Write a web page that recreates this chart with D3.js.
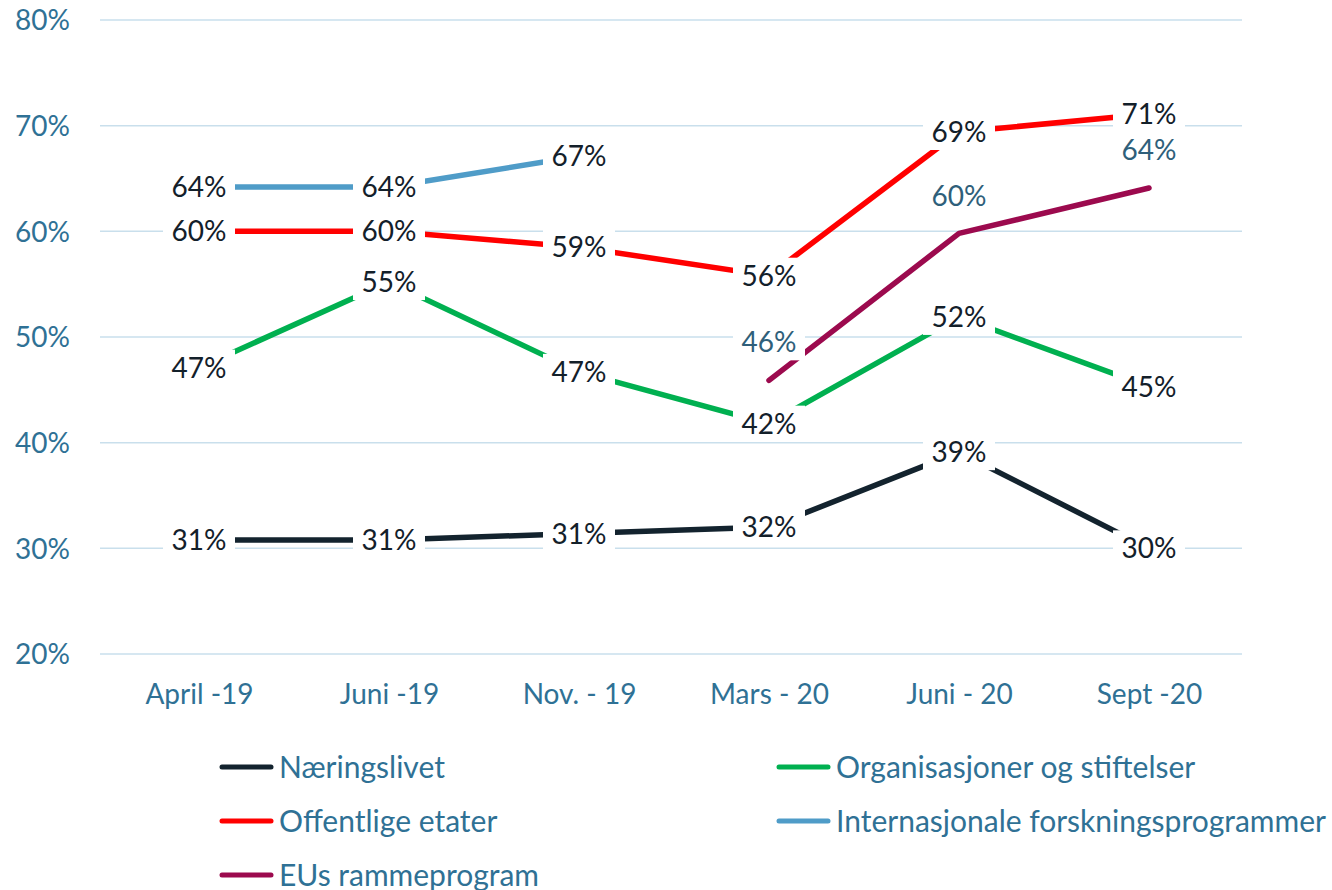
<!DOCTYPE html>
<html>
<head>
<meta charset="utf-8">
<script src="https://cdn.jsdelivr.net/npm/d3@7"></script>
<style>
  body { margin: 0; background: #fff; }
  text { font-family: Lato, "Open Sans", sans-serif; }
</style>
</head>
<body>
<div class="chart"></div>
<script>
const periods = ['April -19', 'Juni -19', 'Nov. - 19', 'Mars - 20', 'Juni - 20', 'Sept -20'];
const yTicks = [0.2, 0.3, 0.4, 0.5, 0.6, 0.7, 0.8];

const naeringslivet = [0.308, 0.308, 0.314, 0.320, 0.391, 0.300];
const organisasjoner = [0.471, 0.552, 0.467, 0.418, 0.519, 0.453];
const offentlige = [0.600, 0.600, 0.585, 0.558, 0.694, 0.711];
const internasjonale = [0.642, 0.642, 0.671, null, null, null];
const eusRamme = [null, null, null, 0.459, 0.598, 0.641];

const series = [
  {name: 'Næringslivet', values: naeringslivet, color: '#13232e', labelColor: '#13202a', dy: 0},
  {name: 'Organisasjoner og stiftelser', values: organisasjoner, color: '#00b050', labelColor: '#13202a', dy: 0},
  {name: 'Offentlige etater', values: offentlige, color: '#ff0000', labelColor: '#13202a', dy: 0},
  {name: 'Internasjonale forskningsprogrammer', values: internasjonale, color: '#4f9cc8', labelColor: '#13202a', dy: 0},
  {name: 'EUs rammeprogram', values: eusRamme, color: '#9c0a4e', labelColor: '#2f5f7a', dy: -38}
];

const width = 1332, height = 890;
const axisColor = '#2f7195';

const svg = d3.select('.chart').append('svg')
  .attr('width', width)
  .attr('height', height);

const xScale = d3.scalePoint().domain(periods).range([199, 1149]);
const yScale = d3.scaleLinear().domain([0.2, 0.8]).range([654, 20]);

// gridlines
svg.append('g').selectAll('line')
  .data(yTicks)
  .enter()
  .append('line')
  .attr('x1', 100).attr('x2', 1242)
  .attr('y1', d => yScale(d)).attr('y2', d => yScale(d))
  .style('stroke', '#c9dfec')
  .style('stroke-width', 1.5);

// y axis labels
const yAxis = d3.axisLeft(yScale).tickValues(yTicks).tickFormat(d3.format('.0%')).tickSize(0).tickPadding(0);
const yg = svg.append('g').attr('transform', 'translate(70,0)').call(yAxis);
yg.select('.domain').remove();
yg.selectAll('text').style('fill', axisColor).style('font-size', '28px').attr('dy', '0.35em');

// x axis labels
const xAxis = d3.axisBottom(xScale).tickSize(0).tickPadding(0);
const xg = svg.append('g').attr('transform', 'translate(0,694)').call(xAxis);
xg.select('.domain').remove();
xg.selectAll('text').style('fill', axisColor).style('font-size', '28px').attr('dy', '0.35em');

const line = d3.line()
  .defined(d => d != null)
  .x((d, i) => xScale(periods[i]))
  .y(d => yScale(d));

series.forEach(s => {
  svg.append('path')
    .datum(s.values)
    .attr('d', line)
    .style('fill', 'none')
    .style('stroke', s.color)
    .style('stroke-width', 5.5)
    .style('stroke-linejoin', 'round')
    .style('stroke-linecap', s.name === 'EUs rammeprogram' ? 'round' : 'butt');
});

// data labels with white boxes
const fmt = d3.format('.0%');
series.forEach(s => {
  const pts = s.values.map((v, i) => ({v: v, x: xScale(periods[i]), y: yScale(v)})).filter(p => p.v != null);
  const g = svg.append('g').selectAll('g')
    .data(pts)
    .enter()
    .append('g')
    .attr('transform', d => `translate(${d.x},${d.y + s.dy})`);
  g.append('rect')
    .attr('x', -36).attr('y', -18)
    .attr('width', 72).attr('height', 36)
    .style('fill', '#fff');
  g.append('text')
    .attr('text-anchor', 'middle')
    .attr('dy', '0.36em')
    .style('font-size', '28px')
    .style('fill', s.labelColor)
    .text(d => fmt(d.v));
});

// legend
const legendPos = [
  {x: 220, y: 767}, {x: 777, y: 767},
  {x: 220, y: 821}, {x: 777, y: 821},
  {x: 220, y: 875}
];
const legend = svg.append('g').selectAll('g')
  .data(series)
  .enter()
  .append('g')
  .attr('transform', (d, i) => `translate(${legendPos[i].x},${legendPos[i].y})`);
legend.append('line')
  .attr('x1', 2).attr('x2', 51)
  .style('stroke', d => d.color)
  .style('stroke-width', 5)
  .style('stroke-linecap', 'round');
legend.append('text')
  .attr('x', 59)
  .attr('dy', '0.35em')
  .style('font-size', '30px')
  .style('fill', axisColor)
  .text(d => d.name);
</script>
</body>
</html>
